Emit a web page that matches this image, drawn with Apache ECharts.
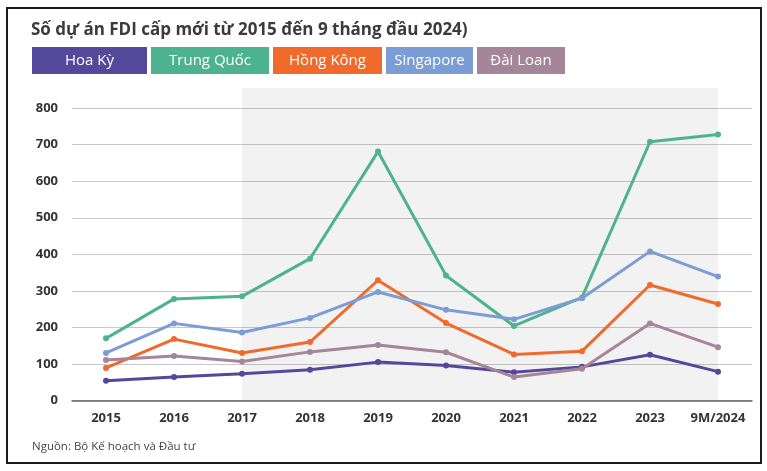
<!DOCTYPE html>
<html>
<head>
<meta charset="utf-8">
<script src="https://cdn.jsdelivr.net/npm/echarts@6/dist/echarts.min.js"></script>
<style>
    html, body { margin: 0; padding: 0; background: #fff; }
    #plot { width: 767px; height: 471px; }
    #frame {
        position: absolute; left: 6px; top: 7px; width: 752px; height: 453px;
        border: 2px solid #1a1a1a; pointer-events: none;
    }
</style>
</head>
<body>
<div id="plot"></div>
<div id="frame"></div>
<script>
// 数据
const categories = ['2015', '2016', '2017', '2018', '2019', '2020', '2021', '2022', '2023', '9M/2024'];
const hoaKy = [54, 64, 73, 84, 105, 96, 77, 92, 125, 79];
const trungQuoc = [170, 278, 285, 388, 681, 342, 204, 282, 708, 728];
const hongKong = [89, 168, 130, 160, 329, 212, 126, 135, 316, 264];
const singapore = [130, 211, 186, 226, 297, 248, 222, 280, 408, 339];
const daiLoan = [111, 122, 107, 133, 152, 132, 64, 87, 211, 146];
const yTicks = [0, 100, 200, 300, 400, 500, 600, 700, 800];

const names = ['Hoa Kỳ', 'Trung Quốc', 'Hồng Kông', 'Singapore', 'Đài Loan'];
const colors = ['#54489b', '#4db38f', '#ef6a2b', '#7b9cd4', '#a58598'];
const boxWidths = [115, 118, 109, 87, 88];
const seriesData = [hoaKy, trungQuoc, hongKong, singapore, daiLoan];

const font = '"Open Sans", "Noto Sans", sans-serif';
const legendFontSize = 15;

// 用canvas量文字宽度，让图例文字居中
let measureCtx = document.createElement('canvas').getContext('2d');
measureCtx.font = legendFontSize + 'px ' + font;
function textWidth(s) {
    return measureCtx.measureText(s).width;
}

let chart = echarts.init(document.getElementById('plot'));

let series = names.map(function (n, i) {
    return {
        name: n,
        type: 'line',
        data: seriesData[i],
        symbol: 'circle',
        symbolSize: 6,
        lineStyle: { width: 3, color: colors[i] },
        itemStyle: { color: colors[i] },
        z: 3 + i
    };
});
// 底色区域
series.push({
    type: 'line',
    data: [],
    silent: true,
    markArea: {
        silent: true,
        itemStyle: { color: 'rgba(0,0,0,0.052)' },
        data: [[{ xAxis: '2017' }, { xAxis: '9M/2024' }]]
    }
});

let splitColors = yTicks.map(function () { return '#c9c9c9'; });
splitColors.push('rgba(0,0,0,0)');

let option = {
    animation: false,
    textStyle: { fontFamily: font },
    title: {
        text: 'Số dự án FDI cấp mới từ 2015 đến 9 tháng đầu 2024)',
        left: 26,
        top: 17,
        textStyle: { fontFamily: font, fontSize: 17, fontWeight: 'bold', color: '#3b3b3b' }
    },
    legend: {
        left: 22,
        top: 42,
        icon: 'none',
        itemWidth: 0,
        itemHeight: 27,
        itemGap: -1,
        selectedMode: false,
        data: names.map(function (n, i) {
            let side = Math.max(0, (boxWidths[i] - textWidth(n)) / 2);
            return {
                name: n,
                textStyle: {
                    backgroundColor: colors[i],
                    color: '#fff',
                    height: 27,
                    lineHeight: 27,
                    padding: [0, side, 0, side],
                    fontSize: legendFontSize,
                    fontFamily: font
                }
            };
        })
    },
    graphic: [{
        type: 'text',
        left: 32,
        top: 441,
        style: { text: 'Nguồn: Bộ Kế hoạch và Đầu tư', fill: '#444', font: '11.5px ' + font }
    }],
    grid: { left: 72, right: 15, top: 88, bottom: 70.5, containLabel: false },
    xAxis: {
        type: 'category',
        data: categories,
        boundaryGap: true,
        axisLine: { lineStyle: { color: '#666', width: 1.5 } },
        axisTick: { length: 5, interval: 0, lineStyle: { color: '#666' } },
        axisLabel: { interval: 0, color: '#333', fontWeight: 'bold', fontSize: 13, margin: 11, fontFamily: font }
    },
    yAxis: {
        type: 'value',
        min: 0,
        max: 855,
        interval: 100,
        axisLine: { show: false },
        axisTick: { show: false },
        axisLabel: {
            color: '#333', fontWeight: 'bold', fontSize: 13, margin: 14, fontFamily: font,
            showMaxLabel: false,
            formatter: function (v) { return yTicks.indexOf(v) >= 0 ? String(v) : ''; }
        },
        splitLine: { lineStyle: { color: splitColors, width: 1 } }
    },
    series: series
};

chart.setOption(option);
</script>
</body>
</html>
